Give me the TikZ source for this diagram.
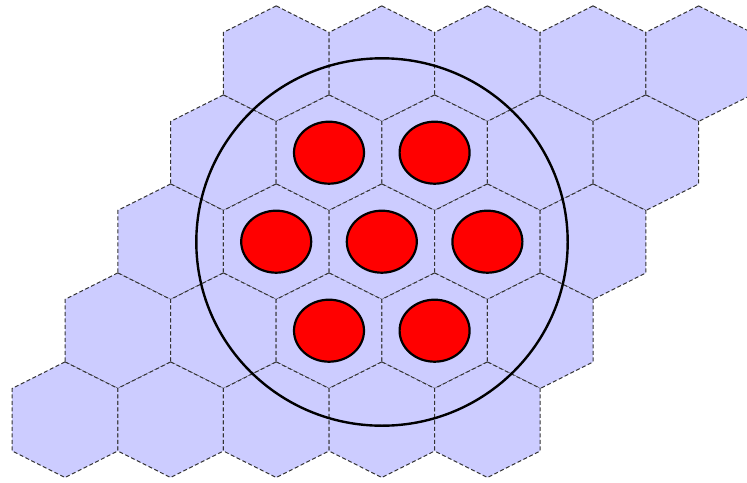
\documentclass[tikz,border=0pt]{standalone}
\usetikzlibrary{shapes.geometric}
\begin{document}
\begin{tikzpicture}[x=1pt,y=-1pt,
  hexcell/.style={fill=blue!20, draw=black!80, line width=1pt, dash pattern=on 4pt off 2.5pt},
  pellet/.style={ellipse, fill=red, draw=black, line width=2.2pt, inner sep=0pt, minimum width=70pt, minimum height=62pt},
  ring/.style={draw=black, line width=2.4pt}]
\useasboundingbox (0,0) rectangle (747,482);
\clip (0,0) rectangle (747,482);
\foreach \r in {0,...,4}{
  \foreach \c in {0,...,4}{
    \pgfmathsetmacro\cx{276.2+105.6*\c-52.8*\r}
    \pgfmathsetmacro\cy{63.7+89*\r}
    \draw[hexcell] (\cx,\cy-57.8) -- ++(52.8,26.5) -- ++(0,62.6) -- ++(-52.8,26.5) -- ++(-52.8,-26.5) -- ++(0,-62.6) -- cycle;
  }
}
\draw[ring] (382,242) ellipse [x radius=185.7pt, y radius=183.7pt];
\foreach \c/\r in {1/1,2/1,1/2,2/2,3/2,2/3,3/3}{
  \pgfmathsetmacro\cx{276.2+105.6*\c-52.8*\r}
  \pgfmathsetmacro\cy{63.7+89*\r}
  \node[pellet] (p\c\r) at (\cx,\cy) {};
}
\end{tikzpicture}
\end{document}
